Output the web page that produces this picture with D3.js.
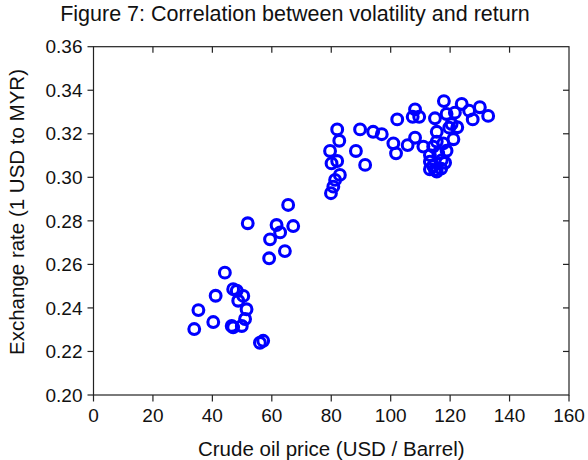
<!DOCTYPE html>
<html>
<head>
<meta charset="utf-8">
<script src="https://cdn.jsdelivr.net/npm/d3@7"></script>
<style>
  body { margin: 0; background: #fff; }
  svg text { font-family: "Liberation Sans", Arial, sans-serif; fill: #111; }
  .frame { fill: none; stroke: #222; stroke-width: 1.2; }
  .tick-line { stroke: #222; stroke-width: 1.2; }
  .dot { fill: none; stroke: #0000ff; stroke-width: 3.1; }
</style>
</head>
<body>
<div id="chart"></div>
<script>
// crude oil price (USD / barrel)
var oilPrice = [
  33.9, 35.3, 40.3, 41.1, 44.2, 47.0, 48.2, 50.4, 48.7, 51.5, 51.0, 49.9, 47.0, 46.5, 56.0, 57.1,
  59.1, 64.4, 65.5, 51.9, 61.6, 67.2, 62.8, 59.4,
  82.0, 82.7, 79.6, 80.1, 82.0, 82.9, 81.3, 80.7, 79.9, 89.7, 94.1, 97.0, 88.3, 91.4,
  102.2, 100.9, 101.8, 105.7, 108.2, 108.2, 107.4, 109.6, 111.0, 114.9, 115.5, 115.5, 117.9,
  113.2, 116.0, 114.9, 123.9, 126.4, 130.0, 132.8, 127.6, 121.6, 118.8, 122.4, 120.5, 121.1,
  114.3, 117.7, 118.8, 113.2, 117.2, 118.3, 114.3, 115.5, 113.2, 117.0, 119.7
];
// exchange rate (1 USD to MYR)
var exchangeRate = [
  0.2303, 0.2390, 0.2335, 0.2456, 0.2562, 0.2486, 0.2479, 0.2455, 0.2433, 0.2394, 0.2349, 0.2317, 0.2311, 0.2317, 0.2240, 0.2249,
  0.2628, 0.2661, 0.2873, 0.2789, 0.2781, 0.2776, 0.2747, 0.2715,
  0.3220, 0.3168, 0.3121, 0.3064, 0.3075, 0.3011, 0.2988, 0.2957, 0.2927, 0.3220, 0.3209, 0.3198, 0.3121, 0.3057,
  0.3266, 0.3156, 0.3110, 0.3148, 0.3182, 0.3312, 0.3278, 0.3278, 0.3141, 0.3271, 0.3209, 0.3164, 0.3350,
  0.3072, 0.3110, 0.3034, 0.3337, 0.3306, 0.3322, 0.3282, 0.3266, 0.3297, 0.3291, 0.3230, 0.3245, 0.3175,
  0.3141, 0.3156, 0.3122, 0.3102, 0.3079, 0.3067, 0.3052, 0.3026, 0.3037, 0.3040, 0.3228
];
var xTicks = [0, 20, 40, 60, 80, 100, 120, 140, 160];
var yTicks = [0.20, 0.22, 0.24, 0.26, 0.28, 0.30, 0.32, 0.34, 0.36];

var width = 588, height = 460;
var margin = {top: 46.7, right: 19, bottom: 65, left: 93.5};
var plotW = width - margin.left - margin.right;
var plotH = height - margin.top - margin.bottom;

var svg = d3.select("#chart").append("svg")
    .attr("width", width)
    .attr("height", height);

var x = d3.scaleLinear().domain([0, 160]).range([margin.left, margin.left + plotW]);
var y = d3.scaleLinear().domain([0.20, 0.36]).range([margin.top + plotH, margin.top]);

// frame
svg.append("rect").attr("class", "frame")
    .attr("x", x(0)).attr("y", y(0.36))
    .attr("width", x(160) - x(0)).attr("height", y(0.20) - y(0.36));

// x ticks: outward at bottom, inward at top
svg.selectAll(".xtb").data(xTicks).enter().append("line")
    .attr("class", "tick-line")
    .attr("x1", function(d) { return x(d); }).attr("x2", function(d) { return x(d); })
    .attr("y1", y(0.20)).attr("y2", y(0.20) + 6.5);
svg.selectAll(".xtt").data(xTicks.slice(1, -1)).enter().append("line")
    .attr("class", "tick-line")
    .attr("x1", function(d) { return x(d); }).attr("x2", function(d) { return x(d); })
    .attr("y1", y(0.36)).attr("y2", y(0.36) + 6);
svg.selectAll(".xlab").data(xTicks).enter().append("text")
    .attr("x", function(d) { return x(d); })
    .attr("y", 422)
    .attr("text-anchor", "middle")
    .style("font-size", "19px")
    .text(function(d) { return d; });

// y ticks: outward at left, inward at right
svg.selectAll(".ytl").data(yTicks).enter().append("line")
    .attr("class", "tick-line")
    .attr("x1", x(0) - 6).attr("x2", x(0))
    .attr("y1", function(d) { return y(d); }).attr("y2", function(d) { return y(d); });
svg.selectAll(".ytr").data(yTicks.slice(1, -1)).enter().append("line")
    .attr("class", "tick-line")
    .attr("x1", x(160) - 6).attr("x2", x(160))
    .attr("y1", function(d) { return y(d); }).attr("y2", function(d) { return y(d); });
svg.selectAll(".ylab").data(yTicks).enter().append("text")
    .attr("x", x(0) - 11)
    .attr("y", function(d) { return y(d); })
    .attr("dy", "0.35em")
    .attr("text-anchor", "end")
    .style("font-size", "19px")
    .text(function(d) { return d3.format(".2f")(d); });

// points
svg.selectAll(".dot").data(oilPrice).enter().append("circle")
    .attr("class", "dot")
    .attr("cx", function(d) { return x(d); })
    .attr("cy", function(d, i) { return y(exchangeRate[i]); })
    .attr("r", 5.4);

// labels
svg.append("text")
    .attr("x", 295).attr("y", 21)
    .attr("text-anchor", "middle")
    .style("font-size", "21.5px")
    .text("Figure 7: Correlation between volatility and return");

svg.append("text")
    .attr("x", (x(0) + x(160)) / 2).attr("y", 456)
    .attr("text-anchor", "middle")
    .style("font-size", "20.5px")
    .text("Crude oil price (USD / Barrel)");

svg.append("text")
    .attr("transform", "translate(24," + 212 + ") rotate(-90)")
    .attr("text-anchor", "middle")
    .style("font-size", "20.5px")
    .text("Exchange rate (1 USD to MYR)");
</script>
</body>
</html>
